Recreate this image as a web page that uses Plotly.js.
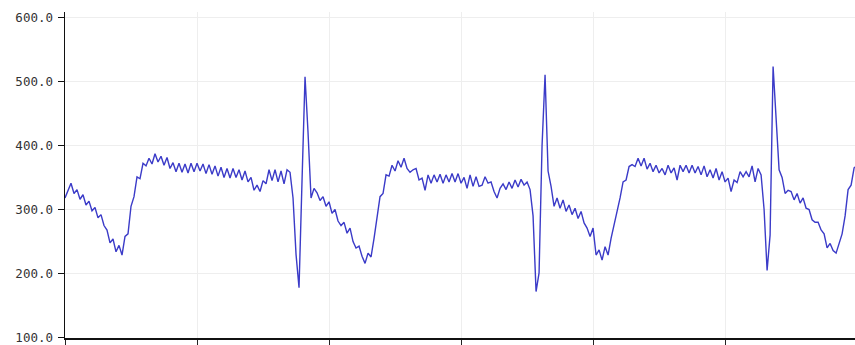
<!DOCTYPE html>
<html>
<head>
<meta charset="utf-8">
<script src="https://cdn.plot.ly/plotly-3.0.1.min.js"></script>
<style>html,body{margin:0;padding:0;background:#fff;}#chart{width:855px;height:345px;}</style>
</head>
<body>
<div id="chart"></div>
<script>
// Signal samples (one per sample index)
const signal = [
318,330,341,325,331,316,323,307,313,298,303,287,292,275,268,248,254,234,244,229,
258,262,305,320,351,348,372,368,380,371,387,374,383,369,381,364,373,359,372,358,
371,357,372,359,372,360,371,356,370,355,368,352,366,350,364,349,364,350,362,346,
360,343,350,330,338,328,345,340,362,345,362,343,360,340,362,358,318,230,178,345,
507,420,318,333,326,314,320,305,312,294,300,282,275,280,263,271,250,240,243,227,
216,232,226,255,285,320,325,354,352,369,360,376,366,380,364,358,362,364,346,349,
330,354,341,354,343,355,341,354,343,356,343,356,341,350,333,354,336,351,336,338,
351,341,343,328,318,333,340,331,343,333,346,335,347,338,343,331,290,172,201,400,
510,360,336,305,318,302,315,297,307,292,302,286,297,279,271,258,271,229,237,221,
242,229,255,275,300,318,343,346,367,370,367,380,368,380,363,372,359,369,357,364,
354,369,357,365,346,369,359,369,357,369,357,367,354,368,351,362,349,364,346,359,
343,349,328,346,342,359,351,359,351,368,343,364,354,300,205,260,523,440,362,350,
325,330,328,315,325,310,318,302,300,284,280,280,268,262,240,247,236,232,247,262,
290,331,338,365,369
];
const sampleIndex = signal.map((_, i) => i);
const yTicks = [100, 200, 300, 400, 500, 600];
const yTickText = ['100.0', '200.0', '300.0', '400.0', '500.0', '600.0'];

const trace = {
  x: sampleIndex,
  y: signal,
  type: 'scatter',
  mode: 'lines',
  line: {color: '#3b3bc8', width: 1.4},
  hoverinfo: 'skip'
};

const layout = {
  width: 855,
  height: 345,
  margin: {l: 65, r: 0, t: 12, b: 7},
  paper_bgcolor: '#ffffff',
  plot_bgcolor: '#ffffff',
  showlegend: false,
  xaxis: {
    range: [0, 263.3],
    tick0: 0,
    dtick: 44,
    showticklabels: false,
    ticks: 'outside',
    ticklen: 7,
    tickcolor: '#222',
    tickwidth: 1,
    showgrid: true,
    gridcolor: '#eeeeee',
    gridwidth: 1,
    showline: true,
    linecolor: '#111',
    linewidth: 1.5,
    zeroline: false
  },
  yaxis: {
    range: [99.6, 608],
    tickmode: 'array',
    tickvals: yTicks,
    ticktext: yTickText,
    ticks: 'outside',
    ticklen: 6,
    tickcolor: '#111',
    tickwidth: 1,
    ticklabelstandoff: 2,
    ticklabeloverflow: 'allow',
    tickfont: {family: 'DejaVu Sans Mono, monospace', size: 12.5, color: '#333'},
    showgrid: true,
    gridcolor: '#eeeeee',
    gridwidth: 1,
    showline: true,
    linecolor: '#111',
    linewidth: 1.5,
    zeroline: false
  }
};

Plotly.newPlot('chart', [trace], layout, {displayModeBar: false, staticPlot: true});
</script>
</body>
</html>
